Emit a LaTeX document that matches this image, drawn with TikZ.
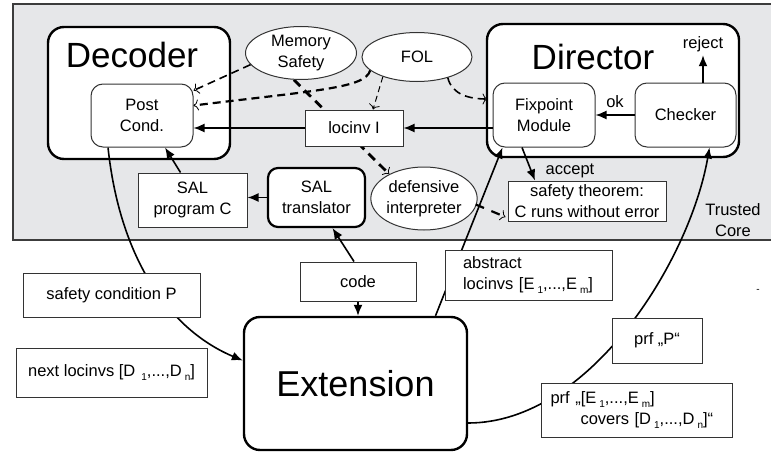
\documentclass[tikz,border=0pt]{standalone}
\usepackage{fontspec}
\setmainfont{Liberation Sans}
\usetikzlibrary{arrows.meta,positioning,calc,shapes.geometric,backgrounds}
\definecolor{corefill}{RGB}{230,231,233}
\definecolor{coreline}{RGB}{60,60,60}
\newcommand{\subi}[1]{\hspace{3pt}\raisebox{-0.5ex}{\fontsize{10}{10}\selectfont #1}}

\begin{document}
\begin{tikzpicture}[x=1pt, y=-1pt,
        txt/.style={font=\fontsize{16.5}{21}\selectfont},
        box/.style={rectangle, draw=black!80, line width=1pt, fill=white, inner sep=0pt, align=center, txt},
        rbox/.style={box, rounded corners=12pt},
        thickbox/.style={box, draw=black, line width=2.2pt, rounded corners=10pt},
        bigbox/.style={rectangle, draw=black, line width=2.4pt, rounded corners=16pt, fill=white, inner sep=0pt},
        ell/.style={ellipse, draw=black!80, line width=1pt, fill=white, inner sep=0pt, align=center, txt},
        title/.style={font=\fontsize{35}{35}\selectfont},
        arrow/.style={-{Latex[length=11pt,width=9pt]}, line width=1.6pt},
        dasharrow/.style={-{To[length=5pt,width=11pt,line width=0.8pt]}, dash pattern=on 8pt off 5pt, line width=1.6pt}
    ]
        \useasboundingbox (0,0) rectangle (771,452);

        % trusted core and the two containers
        \begin{scope}[on background layer]
            \draw[coreline, line width=1.5pt, fill=corefill] (13,4) rectangle (790,240);
            \node[bigbox, minimum width=182pt, minimum height=132pt] (decoder) at (139,93) {};
            \node[bigbox, minimum width=252pt, minimum height=133pt] (director) at (613,90.5) {};
        \end{scope}
        \node[title] (dectitle) at (132,55) {Decoder};
        \node[title] (dirtitle) at (593,57) {Director};
        \node[txt, align=center] (trusted) at (733,220) {Trusted\\Core};

        \node[rbox, minimum width=102pt, minimum height=63pt] (postcond) at (142,115.5) {Post\\Cond.};
        \node[ell, minimum width=111pt, minimum height=53pt] (memory) at (301,53) {Memory\\Safety};
        \node[ell, minimum width=110pt, minimum height=49pt] (fol) at (417,57) {FOL};
        \node[box, minimum width=98pt, minimum height=36pt] (locinv) at (354,128) {locinv I};
        \node[rbox, minimum width=102pt, minimum height=64pt] (fixpoint) at (544,115) {Fixpoint\\Module};
        \node[rbox, minimum width=101pt, minimum height=64pt] (checker) at (685.5,115) {Checker};
        \node[txt] (reject) at (703,44) {reject};
        \node[txt] (ok) at (615,102) {ok};
        \node[txt] (accept) at (570,171) {accept};
        \node[box, minimum width=158pt, minimum height=40pt] (safety) at (587,201) {safety theorem:\\C runs without error};
        \node[ell, minimum width=100pt, minimum height=63pt] (defensive) at (424,198.5) {defensive\\interpreter};
        \node[thickbox, minimum width=97pt, minimum height=59pt] (saltrans) at (316.5,197.5) {SAL\\translator};
        \node[box, minimum width=109pt, minimum height=54pt] (salprog) at (192.5,200) {SAL\\program C};

        % outside the trusted core
        \node[box, minimum width=116pt, minimum height=39pt] (code) at (358,281.5) {code};
        \node[bigbox, minimum width=223pt, minimum height=133pt, font=\fontsize{36}{36}\selectfont] (extension) at (355.5,383.5) {Extension};
        \node[box, minimum width=177pt, minimum height=44pt] (safecond) at (111.5,295) {safety condition P};
        \node[box, minimum width=191pt, minimum height=49pt] (nextloc) at (111.5,372.5) {next locinvs [D\hspace{3pt}\subi{1},...,D\subi{n}]};
        \node[box, minimum width=167pt, minimum height=50pt, text width=131pt, align=left] (abstract) at (528.5,275) {abstract\\locinvs [E\subi{1},...,E\subi{m}]};
        \node[box, minimum width=90pt, minimum height=45pt] (prfp) at (657,340.5) {prf „P“};
        \node[box, minimum width=191pt, minimum height=54pt, text width=172pt, align=left] (prfcov) at (636.5,410) {prf „[E\subi{1},...,E\subi{m}]\\\hspace*{30pt}covers [D\subi{1},...,D\subi{n}]“};
        \node[font=\fontsize{10}{10}\selectfont] (tick) at (758,291) {-};

        % connectors that run behind boxes
        \begin{scope}[on background layer]
            \draw[arrow] ($(postcond.south)+(-34,0)$) .. controls (120,260) and (170,330) .. ($(extension.west)+(0,-23)$);
            \draw[arrow] ($(extension.east)+(0,39.5)$) .. controls (590,423) and (690,260) .. ($(checker.south)+(24,0)$);
            \draw[arrow] ($(extension.north)+(80,0)$) -- ($(fixpoint.south west)+(10,0)$);
            \draw[dasharrow, line width=2.8pt, dash pattern=on 9pt off 6pt] (memory.255) -- (defensive.145);
        \end{scope}

        \draw[arrow] (locinv.west) -- (locinv.west -| postcond.east);
        \draw[arrow] (locinv.east -| fixpoint.west) -- (locinv.east);
        \draw[arrow] (checker.west) -- (fixpoint.east);
        \draw[arrow] (checker.north -| reject) -- (reject.south);
        \draw[arrow] ($(fixpoint.south)+(-22,0)$) -- ($(safety.north)+(-52,0)$);
        \draw[arrow] (saltrans.west) -- (saltrans.west -| salprog.east);
        \draw[arrow] ($(salprog.north)+(-12,0)$) -- ($(postcond.south)+(23,0)$);
        \draw[arrow] (code.south) -- (code.south |- extension.north);
        \draw[arrow] ($(code.north)+(-4,0)$) -- ($(saltrans.south)+(16,0)$);

        \draw[dasharrow] (memory.193) -- ($(postcond.east)+(0,-25)$);
        \draw[dasharrow, line width=2.2pt] (fol.196) .. controls (365,88) and (320,90) .. ($(postcond.east)+(0,-10)$);
        \draw[dasharrow, line width=1pt, dash pattern=on 6pt off 4pt] (fol.210) -- ($(locinv.north)+(19,0)$);
        \draw[dasharrow] (fol.326) .. controls (452,95) and (470,99) .. ($(fixpoint.west)+(-5,-16)$);
        \draw[dasharrow, line width=2.2pt, dash pattern=on 9pt off 8pt] ($(defensive.east)+(-2,6)$) -- ($(safety.west)+(-2,16)$);
    \end{tikzpicture}
\end{document}
